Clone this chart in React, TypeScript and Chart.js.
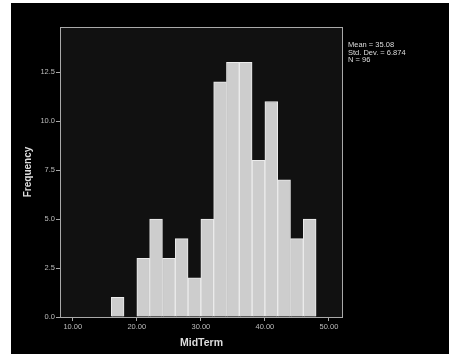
import React, { useEffect, useRef } from "react";
import { Chart, registerables } from "chart.js";

Chart.register(...registerables);

// Histogram bins (width 2), given by centre value
const binCenters = [17, 21, 23, 25, 27, 29, 31, 33, 35, 37, 39, 41, 43, 45, 47];
const frequencies = [1, 3, 5, 3, 4, 2, 5, 12, 13, 13, 8, 11, 7, 4, 5];
const xTickValues = [10, 20, 30, 40, 50];
const yTickValues = [0, 2.5, 5, 7.5, 10, 12.5];
const statsLines = ["Mean = 35.08", "Std. Dev. = 6.874", "N = 96"];

const FONT = "'Liberation Sans', Arial, sans-serif";
const FRAME = "#a9a9a9";

const framePlugin = {
  id: "spssFrame",
  beforeDraw(chart: any) {
    const { ctx, width, height, chartArea: a } = chart;
    ctx.save();
    ctx.fillStyle = "#ffffff";
    ctx.fillRect(0, 0, width, height);
    ctx.fillStyle = "#000000";
    ctx.fillRect(11, 3, width - 11, height - 4);
    ctx.fillStyle = "#111111";
    ctx.fillRect(a.left, a.top, a.right - a.left, a.bottom - a.top);
    ctx.restore();
  },
  afterDatasetsDraw(chart: any) {
    const { ctx, chartArea: a } = chart;
    ctx.save();
    ctx.strokeStyle = FRAME;
    ctx.lineWidth = 1;
    ctx.strokeRect(a.left + 0.5, a.top + 0.5, a.right - a.left - 1, a.bottom - a.top);
    ctx.fillStyle = "#dddddd";
    ctx.font = `7.5px ${FONT}`;
    ctx.textBaseline = "middle";
    ctx.textAlign = "left";
    statsLines.forEach((t, i) => {
      ctx.fillText(t, a.right + 5, a.top + 18 + i * 7.7);
    });
    ctx.restore();
  },
};

export default function App() {
  const ref = useRef<HTMLCanvasElement | null>(null);

  useEffect(() => {
    if (!ref.current) return;
    const chart = new Chart(ref.current, {
      type: "bar",
      data: {
        datasets: [
          {
            data: binCenters.map((x, i) => ({ x, y: frequencies[i] })),
            backgroundColor: "#cdcdcd",
            borderColor: "#ececec",
            borderWidth: 1,
            barPercentage: 1,
            categoryPercentage: 1,
          },
        ],
      },
      options: {
        responsive: false,
        animation: false,
        layout: { padding: { left: 0, top: 27, right: 106, bottom: 0 } },
        plugins: { legend: { display: false }, tooltip: { enabled: false } },
        scales: {
          x: {
            type: "linear",
            min: 8,
            max: 52.2,
            offset: false,
            afterBuildTicks: (s: any) => {
              s.ticks = xTickValues.map((v) => ({ value: v }));
            },
            afterFit: (s: any) => {
              s.height = 38;
            },
            ticks: {
              callback: (v: any) => Number(v).toFixed(2),
              color: "#bcbcbc",
              font: { family: FONT, size: 7.5 },
              padding: 1,
              maxRotation: 0,
              autoSkip: false,
            },
            grid: {
              offset: false,
              drawOnChartArea: false,
              drawTicks: true,
              tickLength: 4,
              color: FRAME,
            },
            border: { display: false },
            title: {
              display: true,
              text: "MidTerm",
              color: "#dddddd",
              font: { family: FONT, size: 10.5, weight: "bold" },
              padding: { top: 0, bottom: 5.7 },
            },
          },
          y: {
            min: 0,
            max: 14.8,
            afterBuildTicks: (s: any) => {
              s.ticks = yTickValues.map((v) => ({ value: v }));
            },
            afterFit: (s: any) => {
              s.width = 60;
            },
            ticks: {
              callback: (v: any) => Number(v).toFixed(1),
              color: "#bcbcbc",
              font: { family: FONT, size: 7.5 },
              padding: 1,
              autoSkip: false,
            },
            grid: {
              drawOnChartArea: false,
              drawTicks: true,
              tickLength: 4,
              color: FRAME,
            },
            border: { display: false },
            title: {
              display: true,
              text: "Frequency",
              color: "#dddddd",
              font: { family: FONT, size: 10, weight: "bold" },
              padding: { top: 22, bottom: 0 },
            },
          },
        },
      },
      plugins: [framePlugin],
    } as any);
    return () => chart.destroy();
  }, []);

  return (
    <div style={{ position: "absolute", left: 0, top: 0, width: 449, height: 355 }}>
      <canvas ref={ref} width={449} height={355} style={{ width: 449, height: 355, display: "block" }} />
    </div>
  );
}
